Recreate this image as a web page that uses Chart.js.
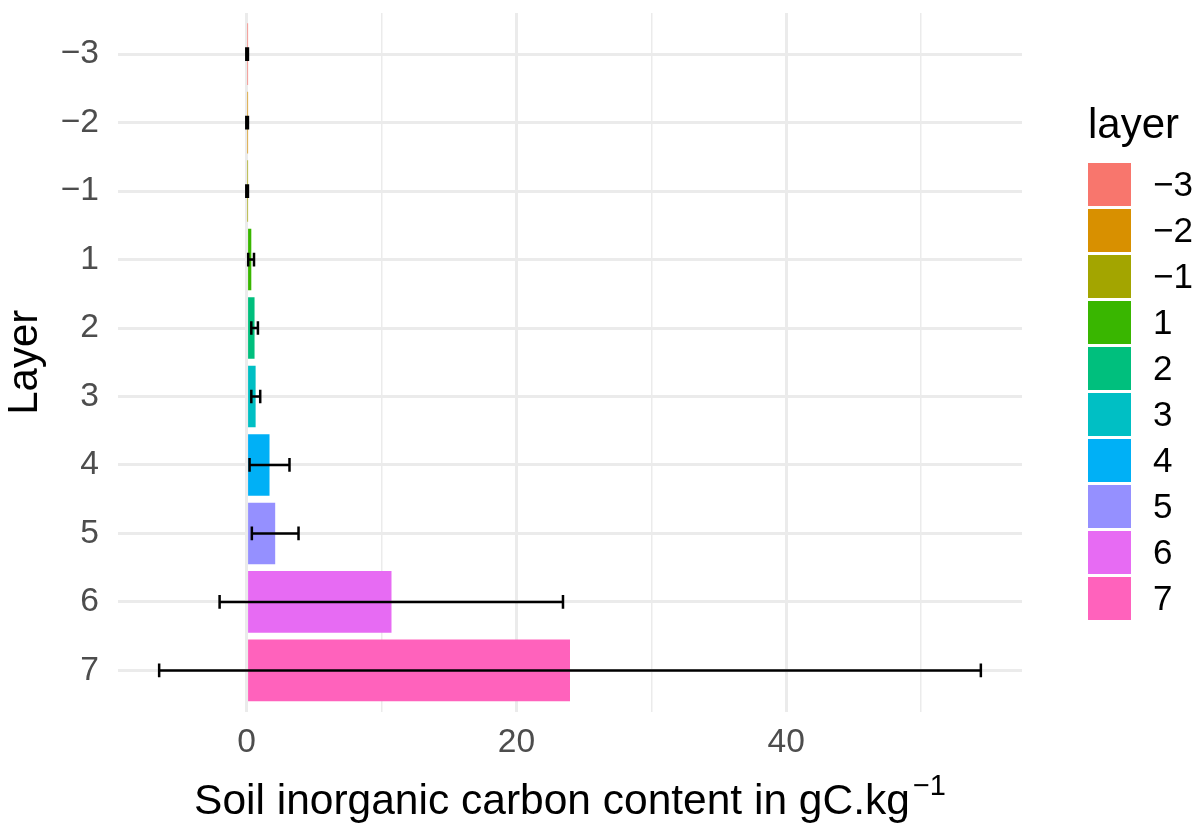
<!DOCTYPE html>
<html><head><meta charset="utf-8">
<script src="https://cdn.jsdelivr.net/npm/chart.js@4.4.1/dist/chart.umd.min.js"></script>
<style>html,body{margin:0;padding:0;background:#fff;} canvas{display:block;}</style>
</head><body>
<canvas id="c" width="1201" height="829"></canvas>
<script>
// ---- data ----
const layers = ['−3','−2','−1','1','2','3','4','5','6','7'];
const meanValues = [0.06,0.06,0.06,0.35,0.59,0.67,1.70,2.12,10.74,23.97];
const errLow = [-0.02,-0.02,-0.02,0.12,0.35,0.35,0.22,0.39,-2.0,-6.48];
const errHigh = [0.10,0.10,0.10,0.55,0.84,1.01,3.18,3.85,23.45,54.42];
const layerColors = ['#F8766D','#D89000','#A3A500','#39B600','#00BF7D','#00BFC4','#00B0F6','#9590FF','#E76BF3','#FF62BC'];
const xTicks = [0,10,20,30,40,50];
const xTickLabels = ['0','','20','','40',''];
const xTitle = 'Soil inorganic carbon content in gC.kg';
const xTitleSup = '−1';
const yTitle = 'Layer';
const legendTitle = 'layer';

const FONT = "'Liberation Sans', Arial, Helvetica, sans-serif";

const errorBarsPlugin = {
  id: 'errorBars',
  afterDatasetsDraw(chart) {
    const {ctx, scales: {x, y}} = chart;
    const capHalf = Math.abs(y.getPixelForValue(0.1) - y.getPixelForValue(0));
    ctx.save();
    ctx.strokeStyle = '#000';
    ctx.lineWidth = 2.5;
    ctx.lineCap = 'butt';
    layers.forEach((l, i) => {
      const yc = y.getPixelForValue(i);
      const x0 = x.getPixelForValue(errLow[i]);
      const x1 = x.getPixelForValue(errHigh[i]);
      ctx.beginPath();
      ctx.moveTo(x0, yc); ctx.lineTo(x1, yc);
      ctx.moveTo(x0, yc - capHalf); ctx.lineTo(x0, yc + capHalf);
      ctx.moveTo(x1, yc - capHalf); ctx.lineTo(x1, yc + capHalf);
      ctx.stroke();
    });
    ctx.restore();
  }
};

const decorPlugin = {
  id: 'decor',
  afterDraw(chart) {
    const {ctx, chartArea} = chart;
    ctx.save();
    ctx.fillStyle = '#000';
    ctx.textBaseline = 'alphabetic';
    ctx.textAlign = 'left';
    const mainFont = '42.5px ' + FONT, supFont = '29px ' + FONT;
    ctx.font = mainFont;
    const wMain = ctx.measureText(xTitle).width;
    ctx.font = supFont;
    const wSup = ctx.measureText(xTitleSup).width;
    const gap = 3;
    const cx = (chartArea.left + chartArea.right) / 2;
    const startX = cx - (wMain + gap + wSup) / 2;
    ctx.font = mainFont;
    ctx.fillText(xTitle, startX, 814);
    ctx.font = supFont;
    ctx.fillText(xTitleSup, startX + wMain + gap, 795);

    // legend
    ctx.font = '42px ' + FONT;
    ctx.fillText(legendTitle, 1088, 137.6);
    ctx.font = '35px ' + FONT;
    ctx.textBaseline = 'middle';
    layers.forEach((l, i) => {
      const top = 163 + i * 46;
      ctx.fillStyle = layerColors[i];
      ctx.fillRect(1088, top, 43, 43);
      ctx.fillStyle = '#000';
      ctx.fillText(l, 1153, top + 21.5 + 1.5);
    });
    ctx.restore();
  }
};

const ctx = document.getElementById('c').getContext('2d');
new Chart(ctx, {
  type: 'bar',
  data: {
    datasets: [{
      data: meanValues.map((v, i) => ({x: v, y: i})),
      backgroundColor: layerColors,
      borderWidth: 0,
      barPercentage: 0.9,
      categoryPercentage: 1.0
    }]
  },
  options: {
    responsive: false,
    animation: false,
    indexAxis: 'y',
    layout: {padding: {left: 0, top: 13, right: 179, bottom: 0}},
    plugins: {legend: {display: false}, tooltip: {enabled: false}},
    scales: {
      x: {
        type: 'linear', position: 'bottom', bounds: 'data', offset: false,
        min: -9.53, max: 57.47,
        afterBuildTicks: s => { s.ticks = xTicks.map(v => ({value: v})); },
        afterFit: s => { s.height = 117.5; s.paddingLeft = 0; s.paddingRight = 0; },
        border: {display: false},
        grid: {
          color: '#EBEBEB',
          lineWidth: c => (c.tick && c.tick.value % 20 === 0) ? 3 : 1.5,
          drawTicks: false, offset: false
        },
        ticks: {
          callback: (v, i) => xTickLabels[i],
          font: {family: FONT, size: 33.6},
          color: '#4D4D4D', padding: 11, maxRotation: 0, autoSkip: false
        },
        title: {display: false}
      },
      y: {
        type: 'linear', position: 'left', reverse: true, bounds: 'data', offset: false,
        min: -0.6, max: 9.6,
        afterBuildTicks: s => { s.ticks = layers.map((l, i) => ({value: i})); },
        afterFit: s => { s.width = 118; s.paddingTop = 0; s.paddingBottom = 0; },
        border: {display: false},
        grid: {color: '#EBEBEB', lineWidth: 3, drawTicks: false, offset: false},
        ticks: {
          callback: (v, i) => layers[i],
          font: {family: FONT, size: 33.6},
          color: '#4D4D4D', padding: 19, autoSkip: false
        },
        title: {
          display: true, text: yTitle,
          font: {family: FONT, size: 42, lineHeight: 1.2},
          color: '#000', padding: {top: 0, bottom: 0}
        }
      }
    }
  },
  plugins: [errorBarsPlugin, decorPlugin]
});
</script>
</body></html>
